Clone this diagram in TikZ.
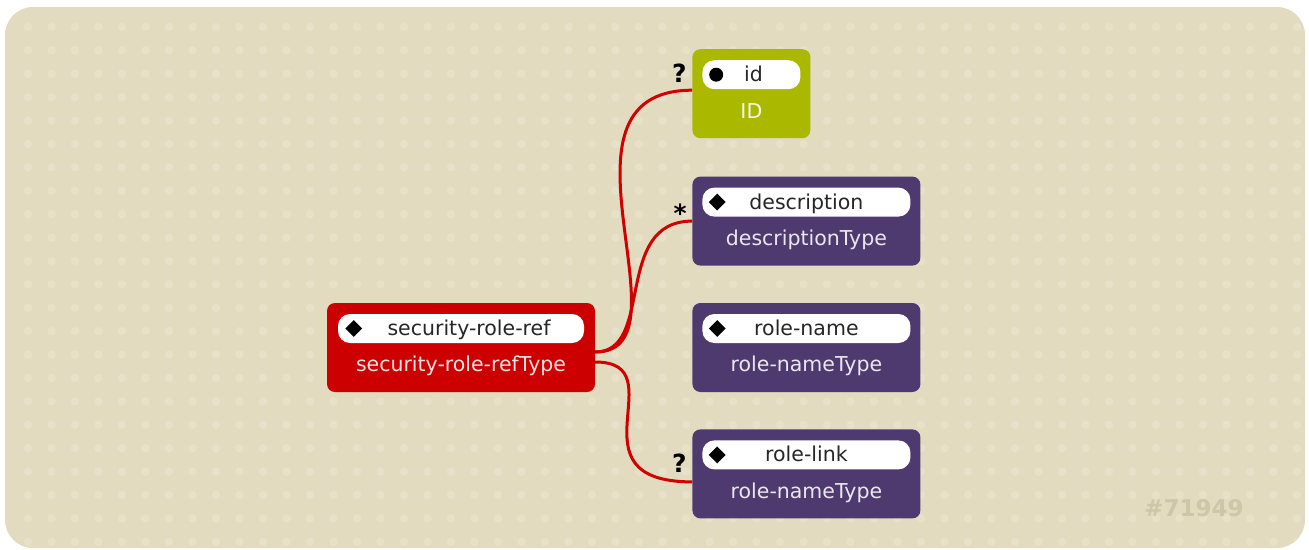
\documentclass[tikz,border=0pt]{standalone}
\usepackage{fontspec}
\setmainfont{DejaVu Sans}
\usetikzlibrary{positioning}
\usetikzlibrary{shapes.geometric}
\definecolor{paper}{HTML}{E2DBC0}
\definecolor{paperdot}{HTML}{E7E1C9}
\definecolor{elemred}{HTML}{CC0000}
\definecolor{elemgreen}{HTML}{ABB800}
\definecolor{elempurple}{HTML}{4F3A70}
\definecolor{wirered}{HTML}{D00000}
\definecolor{stamp}{HTML}{CEC6A8}

\begin{document}
\begin{tikzpicture}[x=1pt,y=-1pt,node distance=38pt,
  every node/.style={font=\fontsize{20.5}{24}\selectfont},
  elem/.style={rounded corners=8pt,minimum height=89pt,inner sep=0pt},
  tag/.style={fill=white,rounded corners=12pt,minimum height=29pt,text height=16pt,
    text depth=2pt,inner sep=0pt,text=black!85},
  type/.style={anchor=base,text=white,text opacity=0.88},
  bullet/.style={fill=black,inner sep=0pt,minimum size=13pt},
  card/.style={font=\fontsize{25}{28}\selectfont\bfseries,anchor=base east,inner sep=0pt},
  wire/.style={draw=wirered,line width=3pt,out=0,in=180}]
  \useasboundingbox (0,0) rectangle (1309,549);
  \fill[paper,rounded corners=28pt] (5,7) rectangle (1305,548);
  \begin{scope}
    \clip[rounded corners=28pt] (5,7) rectangle (1305,548);
    \foreach \x in {28,51.5,...,1300}
      \foreach \y in {27,50.4,...,548}
        \fill[paperdot] (\x,\y) circle (4.3);
  \end{scope}

  \node[elem,fill=elemred,minimum width=268pt] (1) at (461,347.5) {};
  \node[elem,fill=elempurple,minimum width=228pt] (4) [right=97pt of 1] {};
  \node[elem,fill=elempurple,minimum width=228pt] (3) [above=37pt of 4] {};
  \node[elem,fill=elemgreen,minimum width=118pt] (2)
    [above=38pt of 3.north west,anchor=south west] {};
  \node[elem,fill=elempurple,minimum width=228pt] (5) [below=37pt of 4] {};

  \node[tag,minimum width=246pt] (1-tag) [below=11pt of 1.north] {\hspace{16pt}security-role-ref};
  \node[tag,minimum width=98pt] (2-tag) [below=11pt of 2.north] {\hspace{4pt}id};
  \node[tag,minimum width=208pt] (3-tag) [below=11pt of 3.north] {description};
  \node[tag,minimum width=208pt] (4-tag) [below=11pt of 4.north] {role-name};
  \node[tag,minimum width=208pt] (5-tag) [below=11pt of 5.north] {role-link};

  \node[type] (1-type) at ([yshift=-69pt]1.north) {security-role-refType};
  \node[type] (2-type) at ([yshift=-69pt]2.north) {ID};
  \node[type] (3-type) at ([yshift=-69pt]3.north) {descriptionType};
  \node[type] (4-type) at ([yshift=-69pt]4.north) {role-nameType};
  \node[type] (5-type) at ([yshift=-69pt]5.north) {role-nameType};

  \node[bullet,diamond,minimum size=17pt] (1-bullet) at ([xshift=16pt]1-tag.west) {};
  \node[bullet,circle,minimum size=14pt] (2-bullet) at ([xshift=14pt]2-tag.west) {};
  \node[bullet,diamond,minimum size=17pt] (3-bullet) at ([xshift=15pt]3-tag.west) {};
  \node[bullet,diamond,minimum size=17pt] (4-bullet) at ([xshift=15pt]4-tag.west) {};
  \node[bullet,diamond,minimum size=17pt] (5-bullet) at ([xshift=15pt]5-tag.west) {};

  \path[wire]
    ([yshift=-4.5pt]1.east) edge[out distance=101pt,in distance=155pt]
      node[card,pos=1,xshift=-4pt,yshift=8pt]{?} ([yshift=3.5pt]2.west)
    ([yshift=-4.5pt]1.east) edge[out distance=60pt,in distance=80pt]
      node[card,pos=1,xshift=-4pt,yshift=-1pt]{*} (3.west)
    ([yshift=-14.5pt]1.east) edge[out distance=83pt,in distance=127pt]
      node[card,pos=1,xshift=-4pt,yshift=9pt]{?} ([yshift=-8pt]5.west);

  \node[font=\fontsize{23}{26}\selectfont\bfseries,text=stamp,anchor=base]
    (stamp) at (1194,516) {\#71949};
\end{tikzpicture}
\end{document}
